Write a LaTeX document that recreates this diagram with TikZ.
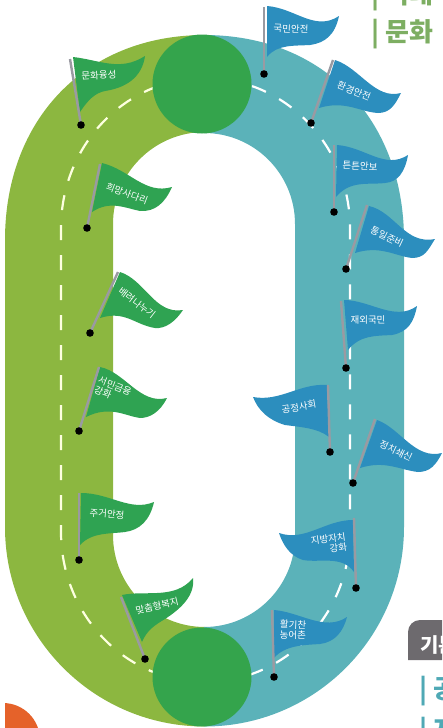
\documentclass[tikz,border=0pt]{standalone}
\usepackage{xcolor}
\usepackage{fontspec}
\setmainfont{Noto Sans CJK KR}
\definecolor{trackgreen}{HTML}{8CB740}
\definecolor{trackteal}{HTML}{5BB2B9}
\definecolor{hubgreen}{HTML}{34A44C}
\definecolor{flaggreen}{HTML}{2FA352}
\definecolor{flagblue}{HTML}{2C8EBE}
\definecolor{polegray}{HTML}{9A9AA2}
\definecolor{headgreen}{HTML}{7DAE62}
\definecolor{headteal}{HTML}{4FA9B5}
\definecolor{tabgray}{HTML}{6D6A6E}
\definecolor{sunorange}{HTML}{E5622A}
\tikzset{
    pole/.style={draw=polegray, line width=2.4pt},
    pin/.style={fill=black},
    lane/.style={line width=2.2pt, dash pattern=on 15pt off 15pt, dash phase=12pt},
    flagtext/.style={text=white, font=\fontsize{9.5}{10.5}\selectfont, inner sep=0pt, align=left},
    headtext/.style={font=\bfseries\fontsize{26}{26}\selectfont, inner sep=0pt, anchor=base west}
}
\begin{document}
\begin{tikzpicture}[x=1pt, y=-1pt]
    \useasboundingbox (0,0) rectangle (442,728);
    \clip (0,0) rectangle (442,728);

    % Orange corner
    \begin{scope}
        \clip (5,690) rectangle (60,728);
        \fill[sunorange] (3,740) circle (37pt);
    \end{scope}

    % Left half of track
    \fill[trackgreen] (205,35) .. controls (85,35) and (5,120) .. (5,240) -- (5,527)
        arc (180:90:199.5) -- (205,627) arc (90:180:92) -- (113,224) arc (180:270:92) -- cycle;
    % Right half of track
    \fill[trackteal] (204,35) .. controls (324,35) and (404,120) .. (404,240) -- (404,527)
        arc (0:90:199.5) -- (204,627) arc (90:0:91) -- (295,224) arc (0:-90:91) -- cycle;

    % Lane marks
    \draw[lane, draw=green!8!yellow!12!white] (205,78) arc [start angle=270, end angle=180, x radius=144, y radius=150]
        -- (61,532) arc [start angle=180, end angle=90, x radius=144, y radius=150];
    \draw[lane, draw=white] (205,78) arc [start angle=270, end angle=360, x radius=145, y radius=150]
        -- (350,532) arc [start angle=0, end angle=90, x radius=145, y radius=150];

    % Hubs
    \fill[hubgreen] (202,84) circle (49.5pt);
    \fill[hubgreen] (202,677) circle (49.5pt);

    % Flags on the left half
    \fill[flaggreen] (73,57) .. controls (100,60) and (120,72) .. (145,56) .. controls (142,78) and (125,88) .. (105,91) .. controls (95,93) and (88,100) .. (80,112) -- cycle;
    \draw[pole] (70,59) -- (81,125);
    \fill[pin] (81,125) circle (3.8pt);
    \node[flagtext, rotate=3] (culture) at (99,75) {문화융성};

    \fill[flaggreen] (102,163) .. controls (130,170) and (145,195) .. (172,187) .. controls (165,203) and (155,212) .. (140,211) .. controls (125,208) and (110,200) .. (92,212) -- cycle;
    \draw[pole] (100,164) -- (87,228);
    \fill[pin] (87,228) circle (3.8pt);
    \node[flagtext, rotate=-20] (ladder) at (127,194) {희망사다리};

    \fill[flaggreen] (120,272) .. controls (145,280) and (155,315) .. (183,310) .. controls (175,322) and (165,329) .. (155,328) .. controls (135,325) and (125,310) .. (100,318) -- cycle;
    \draw[pole] (118,272) -- (90,333);
    \fill[pin] (90,333) circle (3.8pt);
    \node[flagtext, rotate=-38] (share) at (137,303) {배려나누기};

    \fill[flaggreen] (100,367) .. controls (125,372) and (140,405) .. (167,398) .. controls (160,412) and (150,418) .. (140,418) .. controls (125,416) and (110,405) .. (86,417) -- cycle;
    \draw[pole] (99,367) -- (79,431);
    \fill[pin] (79,431) circle (3.8pt);
    \node[flagtext, rotate=-22] (finance) at (113,391) {서민금융\\강화};

    \fill[flaggreen] (81,493) .. controls (110,493) and (130,512) .. (154,502) .. controls (150,520) and (140,530) .. (125,532) .. controls (110,534) and (92,532) .. (80,545) -- cycle;
    \draw[pole] (79,493) -- (79,560);
    \fill[pin] (79,560) circle (3.8pt);
    \node[flagtext, rotate=-4] (housing) at (107,514) {주거안정};

    \fill[flaggreen] (122,595) .. controls (145,590) and (175,600) .. (193,578) .. controls (195,595) and (182,608) .. (165,619) .. controls (155,625) and (147,630) .. (142,642) -- cycle;
    \draw[pole] (121,597) -- (145,659);
    \fill[pin] (145,659) circle (3.8pt);
    \node[flagtext, rotate=13] (welfare) at (157,606) {맞춤형복지};

    % Flags on the right half
    \fill[flagblue] (267,6) .. controls (295,8) and (315,32) .. (339,16) .. controls (335,35) and (325,43) .. (310,45) .. controls (295,46) and (277,44) .. (267,57) -- cycle;
    \draw[pole] (264,7) -- (264,74);
    \fill[pin] (264,74) circle (3.8pt);
    \node[flagtext, rotate=-2] (safety) at (291,29) {국민안전};

    \fill[flagblue] (335,60) .. controls (360,68) and (375,100) .. (401,93) .. controls (395,105) and (390,113) .. (378,113) .. controls (360,112) and (345,100) .. (319,108) -- cycle;
    \draw[pole] (333,60) -- (311,123);
    \fill[pin] (311,123) circle (3.8pt);
    \node[flagtext, rotate=-22] (environ) at (354,91) {환경안전};

    \fill[flagblue] (337,145) .. controls (365,147) and (385,170) .. (408,155) .. controls (405,172) and (398,182) .. (385,183) .. controls (368,185) and (350,180) .. (336,197) -- cycle;
    \draw[pole] (334,145) -- (334,212);
    \fill[pin] (334,212) circle (3.8pt);
    \node[flagtext, rotate=-3] (defence) at (360,166) {튼튼안보};

    \fill[flagblue] (369,206) .. controls (395,212) and (405,245) .. (435,239) .. controls (428,250) and (425,258) .. (412,258) .. controls (395,256) and (380,245) .. (355,253) -- cycle;
    \draw[pole] (367,205) -- (346,269);
    \fill[pin] (346,269) circle (3.8pt);
    \node[flagtext, rotate=-25] (unify) at (387,237) {통일준비};

    \fill[flagblue] (344,300) .. controls (370,300) and (395,322) .. (417,306) .. controls (414,322) and (408,332) .. (392,335) .. controls (375,336) and (360,335) .. (348,350) -- cycle;
    \draw[pole] (341,301) -- (346,368);
    \fill[pin] (346,368) circle (3.8pt);
    \node[flagtext] (overseas) at (368,320) {재외국민};

    \fill[flagblue] (327,385) .. controls (300,383) and (280,402) .. (253,397) .. controls (258,410) and (268,420) .. (285,425) .. controls (300,427) and (318,428) .. (329,437) -- cycle;
    \draw[pole] (328,385) -- (330,452);
    \fill[pin] (330,452) circle (3.8pt);
    \node[flagtext, rotate=10] (fair) at (299,407) {공정사회};

    \fill[flagblue] (377,420) .. controls (400,428) and (415,460) .. (442,453) .. controls (436,465) and (430,472) .. (418,472) .. controls (400,470) and (385,460) .. (360,468) -- cycle;
    \draw[pole] (375,419) -- (353,483);
    \fill[pin] (353,483) circle (3.8pt);
    \node[flagtext, rotate=-25] (reform) at (396,451) {정치쇄신};

    \fill[flagblue] (353,520) .. controls (325,520) and (305,542) .. (279,533) .. controls (283,545) and (290,556) .. (303,560) .. controls (320,563) and (342,555) .. (354,572) -- cycle;
    \draw[pole] (354,518) -- (356,588);
    \fill[pin] (356,588) circle (3.8pt);
    \node[flagtext, rotate=8, align=right] (local) at (329,544) {지방자치\\강화};

    \fill[flagblue] (274,610) .. controls (300,612) and (325,632) .. (347,617) .. controls (343,632) and (335,642) .. (320,644) .. controls (305,645) and (285,645) .. (274,658) -- cycle;
    \draw[pole] (272,610) -- (274,677);
    \fill[pin] (274,677) circle (3.8pt);
    \node[flagtext, rotate=-2] (village) at (293,630) {활기찬\\농어촌};

    % Cut-off headings
    \node[headtext, text=headgreen] (headA) at (371,3) {| 미래};
    \node[headtext, text=headgreen] (headB) at (371,41) {| 문화};
    \fill[tabgray] (408,660) -- (408,632) arc (180:270:12) -- (460,620) -- (460,660) -- cycle;
    \node[headtext, text=white, font=\bfseries\fontsize{20}{20}\selectfont] (tab) at (420,652) {기본};
    \node[headtext, text=headteal] (headC) at (419,698) {| 공};
    \node[headtext, text=headteal] (headD) at (419,739) {| 지};
\end{tikzpicture}
\end{document}
